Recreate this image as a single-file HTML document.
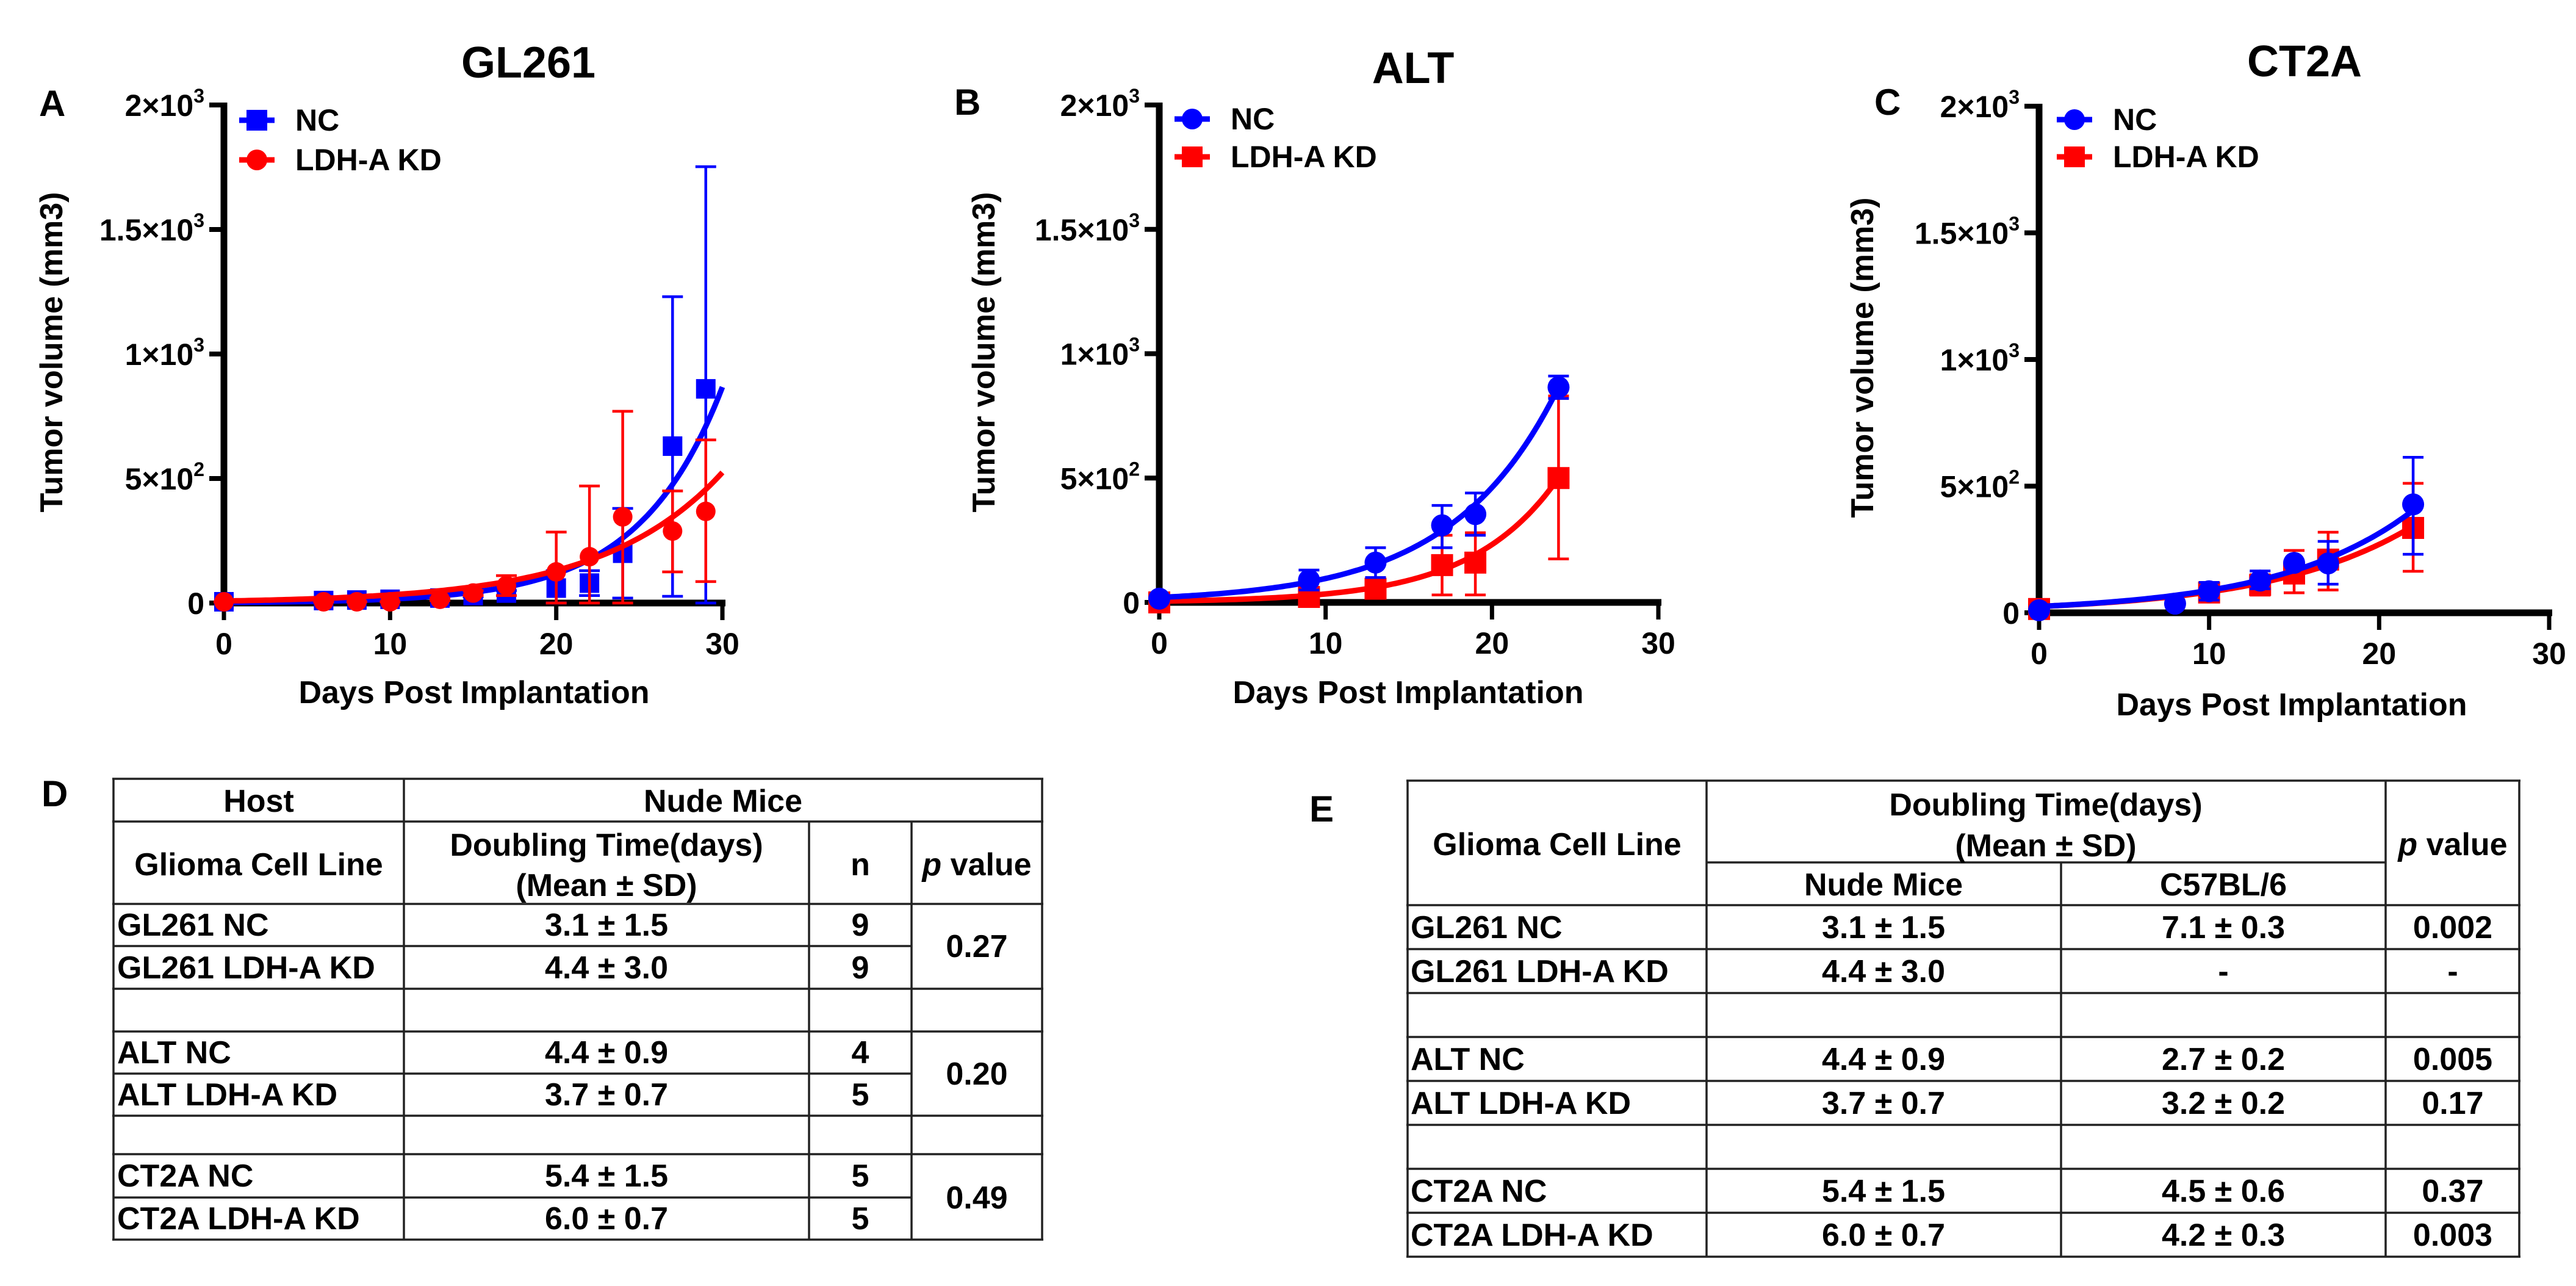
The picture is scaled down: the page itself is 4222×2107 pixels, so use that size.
<!DOCTYPE html>
<html><head><meta charset="utf-8"><title>Tumor growth figure</title>
<style>
html,body{margin:0;padding:0;background:#fff;}
svg{display:block;}
text{font-family:"Liberation Sans",Arial,sans-serif;font-weight:bold;fill:#000;}
</style></head>
<body>
<svg id="fig" xmlns="http://www.w3.org/2000/svg" width="4222" height="2107" viewBox="0 0 4222 2107">
<rect x="0" y="0" width="4222" height="2107" fill="#fff"/>
</svg>
<script>
// ---------- Chart data ----------
// Panel A (GL261)
const aNcDays = [0,6,8,10,13,15,17,20,22,24,27,29];
const aNcMean = [5,10,12,15,20,30,40,60,80,200,630,860];
const aNcHi   = [5,10,12,15,25,35,50,130,130,380,1230,1752];
const aNcLo   = [5,10,12,15,15,25,30,0,30,20,27,0];
const aKdDays = [0,6,8,10,13,15,17,20,22,24,27,29];
const aKdMean = [5,5,5,5,15,40,70,125,186,346,289,368];
const aKdHi   = [5,5,5,5,20,50,110,285,470,770,450,655];
const aKdLo   = [5,5,5,5,10,30,30,0,0,0,125,86];
const aNcFit = [2.15,0.2];
const aKdFit = [8.1,0.139];
// Panel B (ALT)
const bNcDays = [0,9,13,17,19,24];
const bNcMean = [15,90,160,310,355,865];
const bNcHi   = [15,130,220,390,440,910];
const bNcLo   = [15,50,100,220,270,820];
const bKdDays = [0,9,13,17,19,24];
const bKdMean = [0,22,55,150,160,500];
const bKdHi   = [0,30,100,270,280,830];
const bKdLo   = [0,15,30,30,30,175];
const bNcFit = [20,0.157];
const bKdFit = [5,0.192];
// Panel C (CT2A)
const cNcDays = [0,8,10,13,15,17,22];
const cNcMean = [10,36,85,127,197,195,428];
const cNcHi   = [10,36,120,165,197,282,614];
const cNcLo   = [10,36,50,95,197,113,231];
const cKdDays = [0,10,13,15,17,22];
const cKdMean = [15,80,110,155,210,335];
const cKdHi   = [15,110,150,246,318,511];
const cKdLo   = [15,50,70,79,90,164];
const cNcFit = [25,0.1265];
const cKdFit = [25,0.119];
// Axis ticks
const yTickVals = [0,500,1000,1500,2000];
const yTickBase = ["0","5×10","1×10","1.5×10","2×10"];
const yTickSup  = ["","2","3","3","3"];
const xTickVals = [0,10,20,30];
const xTickLabels = ["0","10","20","30"];

const NS = "http://www.w3.org/2000/svg";
const svg = document.getElementById('fig');
function mk(tag, attrs, parent){
  const e = document.createElementNS(NS, tag);
  for (const k in attrs) e.setAttribute(k, attrs[k]);
  (parent || svg).appendChild(e);
  return e;
}
function marker(shape, x, y, r, color, parent){
  let m;
  if (shape === 'square') m = mk('rect',{x:x-r,y:y-r,width:2*r,height:2*r,fill:color},parent);
  else m = mk('circle',{cx:x,cy:y,r:r,fill:color},parent);
  return m;
}

function drawChart(cfg){
  const g = mk('g',{});
  
  
  const sx = d => cfg.x0 + d*(cfg.x30-cfg.x0)/30;
  const sy = v => cfg.y0 - v*(cfg.y0-cfg.y2000)/2000;

  // title & panel letter
  const t = mk('text',{x:cfg.titleX,y:cfg.titleY,'font-size':72,'text-anchor':'middle'},g);
  t.textContent = cfg.title;
  
  
  const pl = mk('text',{x:cfg.letterX,y:cfg.letterY,'font-size':60},g);
  pl.textContent = cfg.letter;
  
  

  // axes
  const ya = mk('line',{x1:sx(0),y1:sy(2000)-4,x2:sx(0),y2:cfg.y0+5,stroke:'#000','stroke-width':11},g);
  
  
  const xa = mk('line',{x1:sx(0)-5,y1:cfg.y0,x2:sx(30)+5,y2:cfg.y0,stroke:'#000','stroke-width':11},g);
  
  

  yTickVals.forEach((v,i)=>{
    const tk = mk('line',{x1:sx(0)-24,y1:sy(v),x2:sx(0),y2:sy(v),stroke:'#000','stroke-width':8},g);
    
    
    const lb = mk('text',{x:sx(0)-32,y:sy(v)+18,'font-size':50,'text-anchor':'end'},g);
    
    
    const s1 = mk('tspan',{},lb); s1.textContent = yTickBase[i];
    if (yTickSup[i]) { const s2 = mk('tspan',{'font-size':32,dy:-22},lb); s2.textContent = yTickSup[i]; }
  });
  xTickVals.forEach((d,i)=>{
    const tk = mk('line',{x1:sx(d),y1:cfg.y0,x2:sx(d),y2:cfg.y0+28,stroke:'#000','stroke-width':7},g);
    
    
    const lb = mk('text',{x:sx(d),y:cfg.y0+84,'font-size':50,'text-anchor':'middle'},g);
    lb.textContent = xTickLabels[i];
    
    
  });
  const xt = mk('text',{x:cfg.xTitleX,y:cfg.xTitleY,'font-size':52,'text-anchor':'middle'},g);
  xt.textContent = 'Days Post Implantation';
  
  
  const ytt = mk('text',{x:0,y:0,'font-size':52,'text-anchor':'middle',transform:`translate(${cfg.yTitleX},${cfg.yTitleY}) rotate(-90)`},g);
  ytt.textContent = 'Tumor volume (mm3)';
  
  

  // series
  cfg.series.forEach(s=>{
    const sg = mk('g',{},g);
    
    
    // fit curve
    const end = s.days[s.days.length-1];
    const fitEnd = cfg.fitToEnd ? 30 : end;
    let dstr = '';
    for (let j=0;j<=120;j++){
      const d = fitEnd*j/120;
      const v = s.fit[0]*Math.exp(s.fit[1]*d);
      dstr += (j?'L':'M') + sx(d).toFixed(1) + ',' + sy(v).toFixed(1);
    }
    const cv = mk('path',{d:dstr,fill:'none',stroke:s.color,'stroke-width':9},sg);
    
    
    s.days.forEach((d,i)=>{
      const x = sx(d);
      const eb = mk('path',{d:`M${x},${sy(s.lo[i])}L${x},${sy(s.hi[i])}M${x-17},${sy(s.hi[i])}L${x+17},${sy(s.hi[i])}M${x-17},${sy(s.lo[i])}L${x+17},${sy(s.lo[i])}`,fill:'none',stroke:s.color,'stroke-width':4.5},sg);
      
      
    });
    s.days.forEach((d,i)=>{
      const m = marker(s.shape, sx(d), sy(s.mean[i]), cfg.r, s.color, sg);
      
      
    });
  });

  // legend
  cfg.legend.forEach((L,i)=>{
    const lg = mk('g',{},g);
    
    
    mk('line',{x1:cfg.legX-29,y1:L.y,x2:cfg.legX+29,y2:L.y,stroke:L.color,'stroke-width':9},lg);
    marker(L.shape, cfg.legX, L.y, 17, L.color, lg);
    const lt = mk('text',{x:cfg.legTextX,y:L.y+17,'font-size':50},lg);
    lt.textContent = L.label;
  });
}

const BLUE = '#0000ff', RED = '#ff0000';
drawChart({id:'gl261',title:'GL261',titleX:866,titleY:127,letter:'A',letterX:64,letterY:190,
  x0:367,x30:1184,y0:988,y2000:172,r:16,fitToEnd:true,
  xTitleX:777,xTitleY:1152,yTitleX:102,yTitleY:577,
  legX:421,legTextX:484,
  legend:[{key:'nc',label:'NC',shape:'square',color:BLUE,y:197},{key:'ldha-kd',label:'LDH-A KD',shape:'circle',color:RED,y:262}],
  series:[
    {key:'nc',shape:'square',color:BLUE,days:aNcDays,mean:aNcMean,hi:aNcHi,lo:aNcLo,fit:aNcFit},
    {key:'ldha-kd',shape:'circle',color:RED,days:aKdDays,mean:aKdMean,hi:aKdHi,lo:aKdLo,fit:aKdFit}
  ]});
drawChart({id:'alt',title:'ALT',titleX:2316,titleY:136,letter:'B',letterX:1564,letterY:188,
  x0:1900,x30:2718,y0:987,y2000:172,r:18,fitToEnd:false,
  xTitleX:2308,xTitleY:1152,yTitleX:1630,yTitleY:577,
  legX:1954,legTextX:2017,
  legend:[{key:'nc',label:'NC',shape:'circle',color:BLUE,y:195},{key:'ldha-kd',label:'LDH-A KD',shape:'square',color:RED,y:257}],
  series:[
    {key:'ldha-kd',shape:'square',color:RED,days:bKdDays,mean:bKdMean,hi:bKdHi,lo:bKdLo,fit:bKdFit},
    {key:'nc',shape:'circle',color:BLUE,days:bNcDays,mean:bNcMean,hi:bNcHi,lo:bNcLo,fit:bNcFit}
  ]});
drawChart({id:'ct2a',title:'CT2A',titleX:3777,titleY:125,letter:'C',letterX:3072,letterY:188,
  x0:3342,x30:4178,y0:1004,y2000:174,r:18,fitToEnd:false,
  xTitleX:3756,xTitleY:1172,yTitleX:3070,yTitleY:586,
  legX:3400,legTextX:3463,
  legend:[{key:'nc',label:'NC',shape:'circle',color:BLUE,y:196},{key:'ldha-kd',label:'LDH-A KD',shape:'square',color:RED,y:257}],
  series:[
    {key:'ldha-kd',shape:'square',color:RED,days:cKdDays,mean:cKdMean,hi:cKdHi,lo:cKdLo,fit:cKdFit},
    {key:'nc',shape:'circle',color:BLUE,days:cNcDays,mean:cNcMean,hi:cNcHi,lo:cNcLo,fit:cNcFit}
  ]});

// ---------- Tables ----------
function tline(x1,y1,x2,y2,g){
  mk('line',{x1:x1,y1:y1,x2:x2,y2:y2,stroke:'#222','stroke-width':3.5},g);
}
function ttext(str,x,y,anchor,g,italicP){
  const t = mk('text',{x:x,y:y,'font-size':52,'text-anchor':anchor},g);
  if (italicP){
    const a = mk('tspan',{'font-style':'italic'},t); a.textContent = 'p';
    const b = mk('tspan',{},t); b.textContent = ' value';
  } else t.textContent = str;
  return t;
}

// Table D
const dNames = ['GL261 NC','GL261 LDH-A KD','ALT NC','ALT LDH-A KD','CT2A NC','CT2A LDH-A KD'];
const dDoubling = ['3.1 ± 1.5','4.4 ± 3.0','4.4 ± 0.9','3.7 ± 0.7','5.4 ± 1.5','6.0 ± 0.7'];
const dN = ['9','9','4','5','5','5'];
const dP = ['0.27','0.20','0.49'];
(function(){
  const g = mk('g',{});
  
  
  const L = mk('text',{x:68,y:1321,'font-size':60},g); L.textContent='D';
  
  
  const X=[186,662,1326,1494,1708];
  const full=[1276,1346,1481,1620,1690,1828,1891,2031];
  full.forEach(y=>tline(X[0]-2,y,X[4]+2,y,g));
  [1550,1759,1962].forEach(y=>tline(X[0],y,X[3],y,g));
  tline(X[0],1276,X[0],2031,g); tline(X[1],1276,X[1],2031,g); tline(X[4],1276,X[4],2031,g);
  tline(X[2],1346,X[2],2031,g); tline(X[3],1346,X[3],2031,g);
  ttext('Host',424,1330,'middle',g);
  ttext('Nude Mice',1185,1330,'middle',g);
  ttext('Glioma Cell Line',424,1434,'middle',g);
  ttext('Doubling Time(days)',994,1402,'middle',g);
  ttext('(Mean ± SD)',994,1468,'middle',g);
  ttext('n',1410,1434,'middle',g);
  ttext('',1601,1434,'middle',g,true);
  const rowC=[1515,1585,1724,1793,1926,1996];
  dNames.forEach((n,i)=>{
    const r = mk('g',{},g);
    
    
    ttext(n,192,rowC[i]+18,'start',r);
    ttext(dDoubling[i],994,rowC[i]+18,'middle',r);
    ttext(dN[i],1410,rowC[i]+18,'middle',r);
  });
  const pC=[1550,1759,1962];
  dP.forEach((p,i)=>{
    const t = ttext(p,1601,pC[i]+18,'middle',g);
    
    
  });
})();

// Table E
const eNames = ['GL261 NC','GL261 LDH-A KD','ALT NC','ALT LDH-A KD','CT2A NC','CT2A LDH-A KD'];
const eNude = ['3.1 ± 1.5','4.4 ± 3.0','4.4 ± 0.9','3.7 ± 0.7','5.4 ± 1.5','6.0 ± 0.7'];
const eC57 = ['7.1 ± 0.3','-','2.7 ± 0.2','3.2 ± 0.2','4.5 ± 0.6','4.2 ± 0.3'];
const eP = ['0.002','-','0.005','0.17','0.37','0.003'];
(function(){
  const g = mk('g',{});
  
  
  const L = mk('text',{x:2146,y:1346,'font-size':60},g); L.textContent='E';
  
  
  const X=[2307,2797,3378,3910,4129];
  [1279,1483,1555,1627,1699,1771,1843,1915,1987,2059].forEach(y=>tline(X[0]-2,y,X[4]+2,y,g));
  tline(X[1],1413,X[3],1413,g);
  [X[0],X[1],X[3],X[4]].forEach(x=>tline(x,1279,x,2059,g));
  tline(X[2],1413,X[2],2059,g);
  ttext('Glioma Cell Line',2552,1401,'middle',g);
  ttext('Doubling Time(days)',3353,1336,'middle',g);
  ttext('(Mean ± SD)',3353,1403,'middle',g);
  ttext('Nude Mice',3087,1467,'middle',g);
  ttext('C57BL/6',3644,1467,'middle',g);
  ttext('',4020,1401,'middle',g,true);
  const rowC=[1519,1591,1735,1807,1951,2023];
  eNames.forEach((n,i)=>{
    const r = mk('g',{},g);
    
    
    ttext(n,2312,rowC[i]+18,'start',r);
    ttext(eNude[i],3087,rowC[i]+18,'middle',r);
    ttext(eC57[i],3644,rowC[i]+18,'middle',r);
    ttext(eP[i],4020,rowC[i]+18,'middle',r);
  });
})();
</script>
</body></html>
